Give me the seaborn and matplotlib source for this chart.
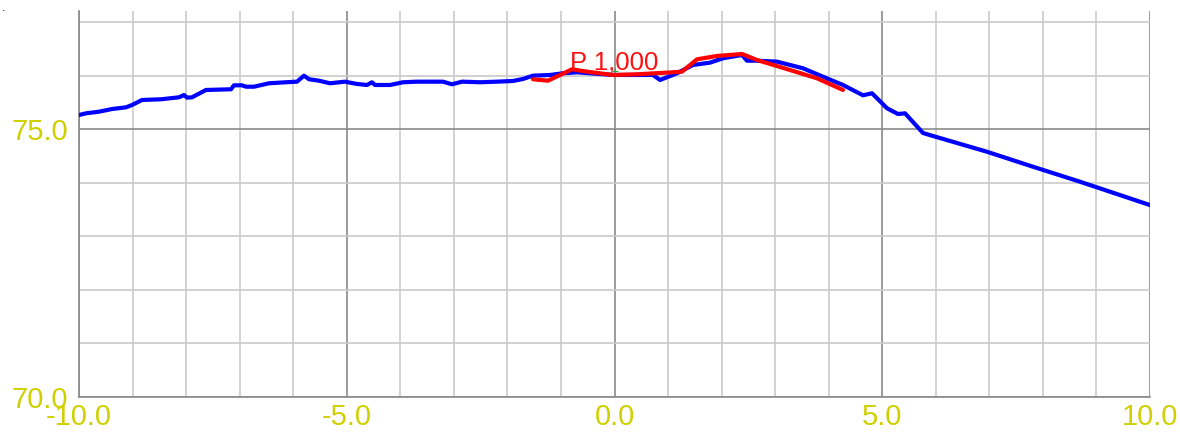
import matplotlib
matplotlib.use("Agg")
import matplotlib.pyplot as plt
from matplotlib.ticker import MultipleLocator, FormatStrFormatter
import seaborn as sns
import pandas as pd

# Measured profile (blue)
profile_x = [-10.00, -9.869, -9.627, -9.384, -9.122, -9.010, -8.824, -8.469, -8.133,
             -8.039, -7.983, -7.890, -7.628, -7.162, -7.106, -6.956, -6.881, -6.732,
             -6.452, -6.134, -5.929, -5.798, -5.705, -5.518, -5.313, -5.033, -4.809,
             -4.622, -4.529, -4.473, -4.192, -3.950, -3.688, -3.203, -3.035, -2.848,
             -2.512, -2.194, -1.896, -1.709, -1.522, -1.204, -0.962, -0.700, -0.457,
             -0.028, 0.719, 0.850, 1.167, 1.466, 1.783, 2.026, 2.381, 2.474, 2.661,
             3.035, 3.520, 3.893, 4.267, 4.640, 4.809, 5.089, 5.294, 5.425, 5.761,
             5.948, 6.956, 7.815, 8.693, 10.00]
profile_y = [75.267, 75.299, 75.329, 75.379, 75.411, 75.454, 75.548, 75.561, 75.598,
             75.641, 75.591, 75.598, 75.735, 75.748, 75.822, 75.822, 75.796, 75.796,
             75.860, 75.879, 75.890, 76.002, 75.935, 75.908, 75.860, 75.890, 75.847,
             75.828, 75.879, 75.828, 75.828, 75.879, 75.890, 75.890, 75.841, 75.890,
             75.879, 75.890, 75.903, 75.940, 76.002, 76.015, 76.047, 76.065, 76.047,
             76.015, 76.015, 75.921, 76.047, 76.202, 76.245, 76.327, 76.389, 76.282,
             76.282, 76.264, 76.140, 75.983, 75.828, 75.636, 75.673, 75.393, 75.286,
             75.299, 74.931, 74.875, 74.581, 74.301, 74.021, 73.585]

# Reference profile (red)
ref_x = [-1.522, -1.242, -0.794, -0.514, -0.028, 0.420, 1.092, 1.260, 1.541, 1.914,
         2.381, 2.661, 3.277, 3.782, 4.267]
ref_y = [75.935, 75.908, 76.121, 76.077, 76.015, 76.028, 76.065, 76.077, 76.308,
         76.370, 76.407, 76.295, 76.108, 75.953, 75.735]

ref_label = "P 1,000"
label_pos = (-0.83, 76.11)
x_ticks = [-10.0, -5.0, 0.0, 5.0, 10.0]
y_ticks = [70.0, 75.0]

sns.set_theme(style="white")
plt.rcParams["font.family"] = ["Liberation Sans", "DejaVu Sans"]

fig = plt.figure(figsize=(11.8, 4.37), dpi=100)
ax = fig.add_axes([79 / 1180, 40 / 437, 1071 / 1180, 386 / 437])

profile = pd.DataFrame({"x": profile_x, "y": profile_y})
reference = pd.DataFrame({"x": ref_x, "y": ref_y})

sns.lineplot(data=profile, x="x", y="y", ax=ax, color="#0000ff", lw=3.0,
             estimator=None, sort=False, zorder=3)
sns.lineplot(data=reference, x="x", y="y", ax=ax, color="#ff0000", lw=3.0,
             estimator=None, sort=False, zorder=4)

ax.text(label_pos[0], label_pos[1], ref_label, color="#ff1010", fontsize=18.5,
        ha="left", va="baseline", zorder=5)
ax.plot([0.0], [76.09], marker="+", color="#22aa44", ms=4, mew=0.8, zorder=6)

ax.set_xlim(-10, 10)
ax.set_ylim(70, 77.21)
ax.set_xticks(x_ticks)
ax.set_yticks(y_ticks)
ax.xaxis.set_minor_locator(MultipleLocator(1))
ax.yaxis.set_minor_locator(MultipleLocator(1))
ax.xaxis.set_major_formatter(FormatStrFormatter("%.1f"))
ax.yaxis.set_major_formatter(FormatStrFormatter("%.1f"))

ax.grid(which="minor", color="#cacaca", lw=1.2, zorder=0)
ax.grid(which="major", color="#8a8a8a", lw=1.2, zorder=1)
ax.set_axisbelow(True)

tick_color = "#d0d000"
ax.tick_params(axis="both", which="both", length=0, labelsize=21,
               labelcolor=tick_color)
ax.tick_params(axis="x", pad=4)
ax.tick_params(axis="y", pad=8)
ax.set_xlabel("")
ax.set_ylabel("")

for side in ("top", "right"):
    ax.spines[side].set_visible(False)
for side in ("left", "bottom"):
    ax.spines[side].set_color("#8a8a8a")
    ax.spines[side].set_linewidth(1.2)

fig.text(0.002, 0.995, ".", color="black", fontsize=9, ha="left", va="top")

fig.savefig("out.png", dpi=100, facecolor="white")
